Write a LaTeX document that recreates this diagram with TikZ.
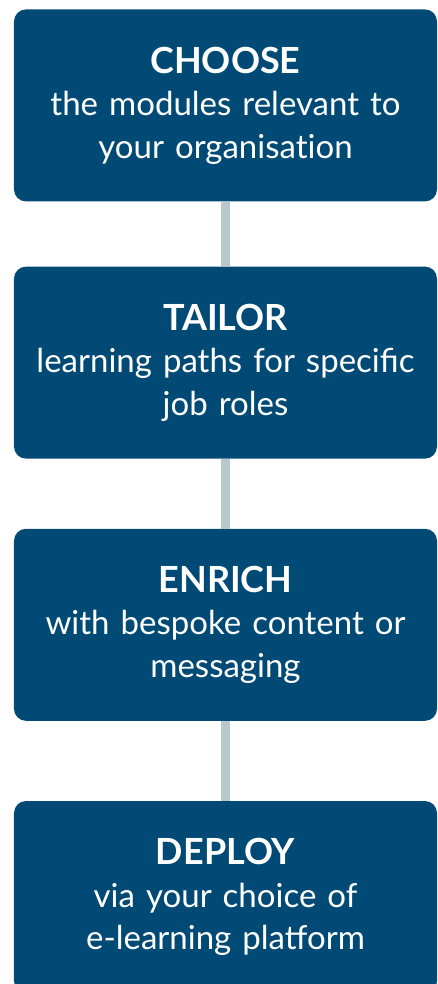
\documentclass[tikz,border=0pt]{standalone}
\usepackage{fontspec}
\setmainfont{Lato}
\usetikzlibrary{arrows,backgrounds,shapes.geometric}
\definecolor{stepblue}{HTML}{014A75}
\definecolor{linkgrey}{HTML}{B7C8CF}
\newcommand{\steptitle}[1]{{\fontsize{36}{42.5}\selectfont\bfseries #1}}

\begin{document}
\begin{tikzpicture}[auto]
\tikzstyle{block} = [rectangle, fill=stepblue, text=white,
text width=415pt, text centered, rounded corners=12pt, inner sep=4pt,
minimum width=423pt, minimum height=192pt, font=\fontsize{33}{42.5}\selectfont]
\tikzstyle{line} = [draw=linkgrey, line width=9pt];
\useasboundingbox (0,0) rectangle (438pt,-984pt);
\matrix [row sep=65pt, inner sep=0pt, anchor=north] at (225.5pt,-9pt)
{
% row 1
\node [block] (choose) {\steptitle{CHOOSE}\\ the modules relevant to\\ your {\addfontfeatures{Ligatures=NoCommon}organisation}}; \\
% row 2
\node [block] (tailor) {\steptitle{TAILOR}\\ learning paths for specific\\ job roles}; \\[5pt]
% row 3
\node [block] (enrich) {\steptitle{ENRICH}\\ with bespoke content or\\ messaging}; \\[15pt]
% row 4
\node [block] (deploy) {\steptitle{DEPLOY}\\ via your choice of\\ e-learning platform}; \\
};
\path [line] (choose) -- (tailor);
\path [line] (tailor) -- (enrich);
\path [line] (enrich) -- (deploy);
\end{tikzpicture}
\end{document}
